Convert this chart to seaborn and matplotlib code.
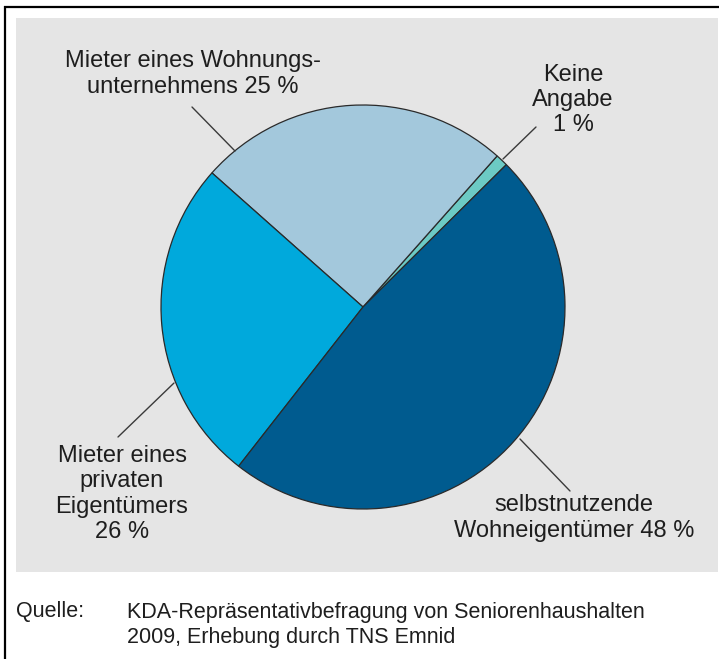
import matplotlib
matplotlib.use("Agg")
import matplotlib.pyplot as plt
import seaborn as sns
from matplotlib.patches import Rectangle

# ---- data ----
categories = ["Keine\nAngabe\n1 %",
              "Mieter eines Wohnungs-\nunternehmens 25 %",
              "Mieter eines\nprivaten\nEigentümers\n26 %",
              "selbstnutzende\nWohneigentümer 48 %"]
shares = [1, 25, 26, 48]
colors = ["#6ccac4", "#a3c8dc", "#00a9dc", "#005b8f"]
source_label = "Quelle:"
source_lines = "KDA-Repräsentativbefragung von Seniorenhaushalten\n2009, Erhebung durch TNS Emnid"

sns.set_theme(style="white")
plt.rcParams["font.family"] = ["Liberation Sans", "DejaVu Sans"]

W, H = 724, 659
fig = plt.figure(figsize=(W / 100, H / 100), dpi=100)
ax = fig.add_axes([0, 0, 1, 1])

def Y(y):
    return H - y

# grey panel
ax.add_patch(Rectangle((16, Y(572)), 718 - 16, 572 - 18, facecolor="#e5e5e5",
                       edgecolor="none", zorder=0))
# frame lines
ax.plot([4, 719], [Y(7), Y(7)], color="black", lw=1.6, solid_capstyle="butt", zorder=1)
ax.plot([5, 5], [Y(6), Y(660)], color="black", lw=1.6, solid_capstyle="butt", zorder=1)

cx, cy, r = 363, 307, 202
ax.pie(shares, colors=colors, startangle=44.8, center=(cx, Y(cy)), radius=r,
       wedgeprops=dict(edgecolor="#2a2a2a", linewidth=0.9), frame=True)

txt_color = "#1e1e1e"
fs = 17
label_pos = [(573, 100), (193, 74), (122, 494), (574, 518)]
for lab, (tx, ty) in zip(categories, label_pos):
    ax.text(tx, Y(ty), lab, ha="center", va="center", multialignment="center",
            fontsize=fs, color=txt_color, linespacing=1.18, zorder=5)

leaders = [((503, 159), (536, 127)),
           ((235, 151), (192, 107)),
           ((174, 383), (118, 437)),
           ((520, 439), (570, 491))]
for (x0, y0), (x1, y1) in leaders:
    ax.plot([x0, x1], [Y(y0), Y(y1)], color="#3a3a3a", lw=1.0, zorder=4)

fs_src = 15.5
ax.text(16, Y(612), source_label, ha="left", va="center", fontsize=fs_src, color=txt_color)
ax.text(127, Y(625), source_lines, ha="left", va="center", fontsize=fs_src,
        color=txt_color, linespacing=1.25)

ax.set_xlim(0, W)
ax.set_ylim(0, H)
ax.set_aspect("auto")
ax.axis("off")
fig.savefig("out.png", dpi=100, facecolor="white")
